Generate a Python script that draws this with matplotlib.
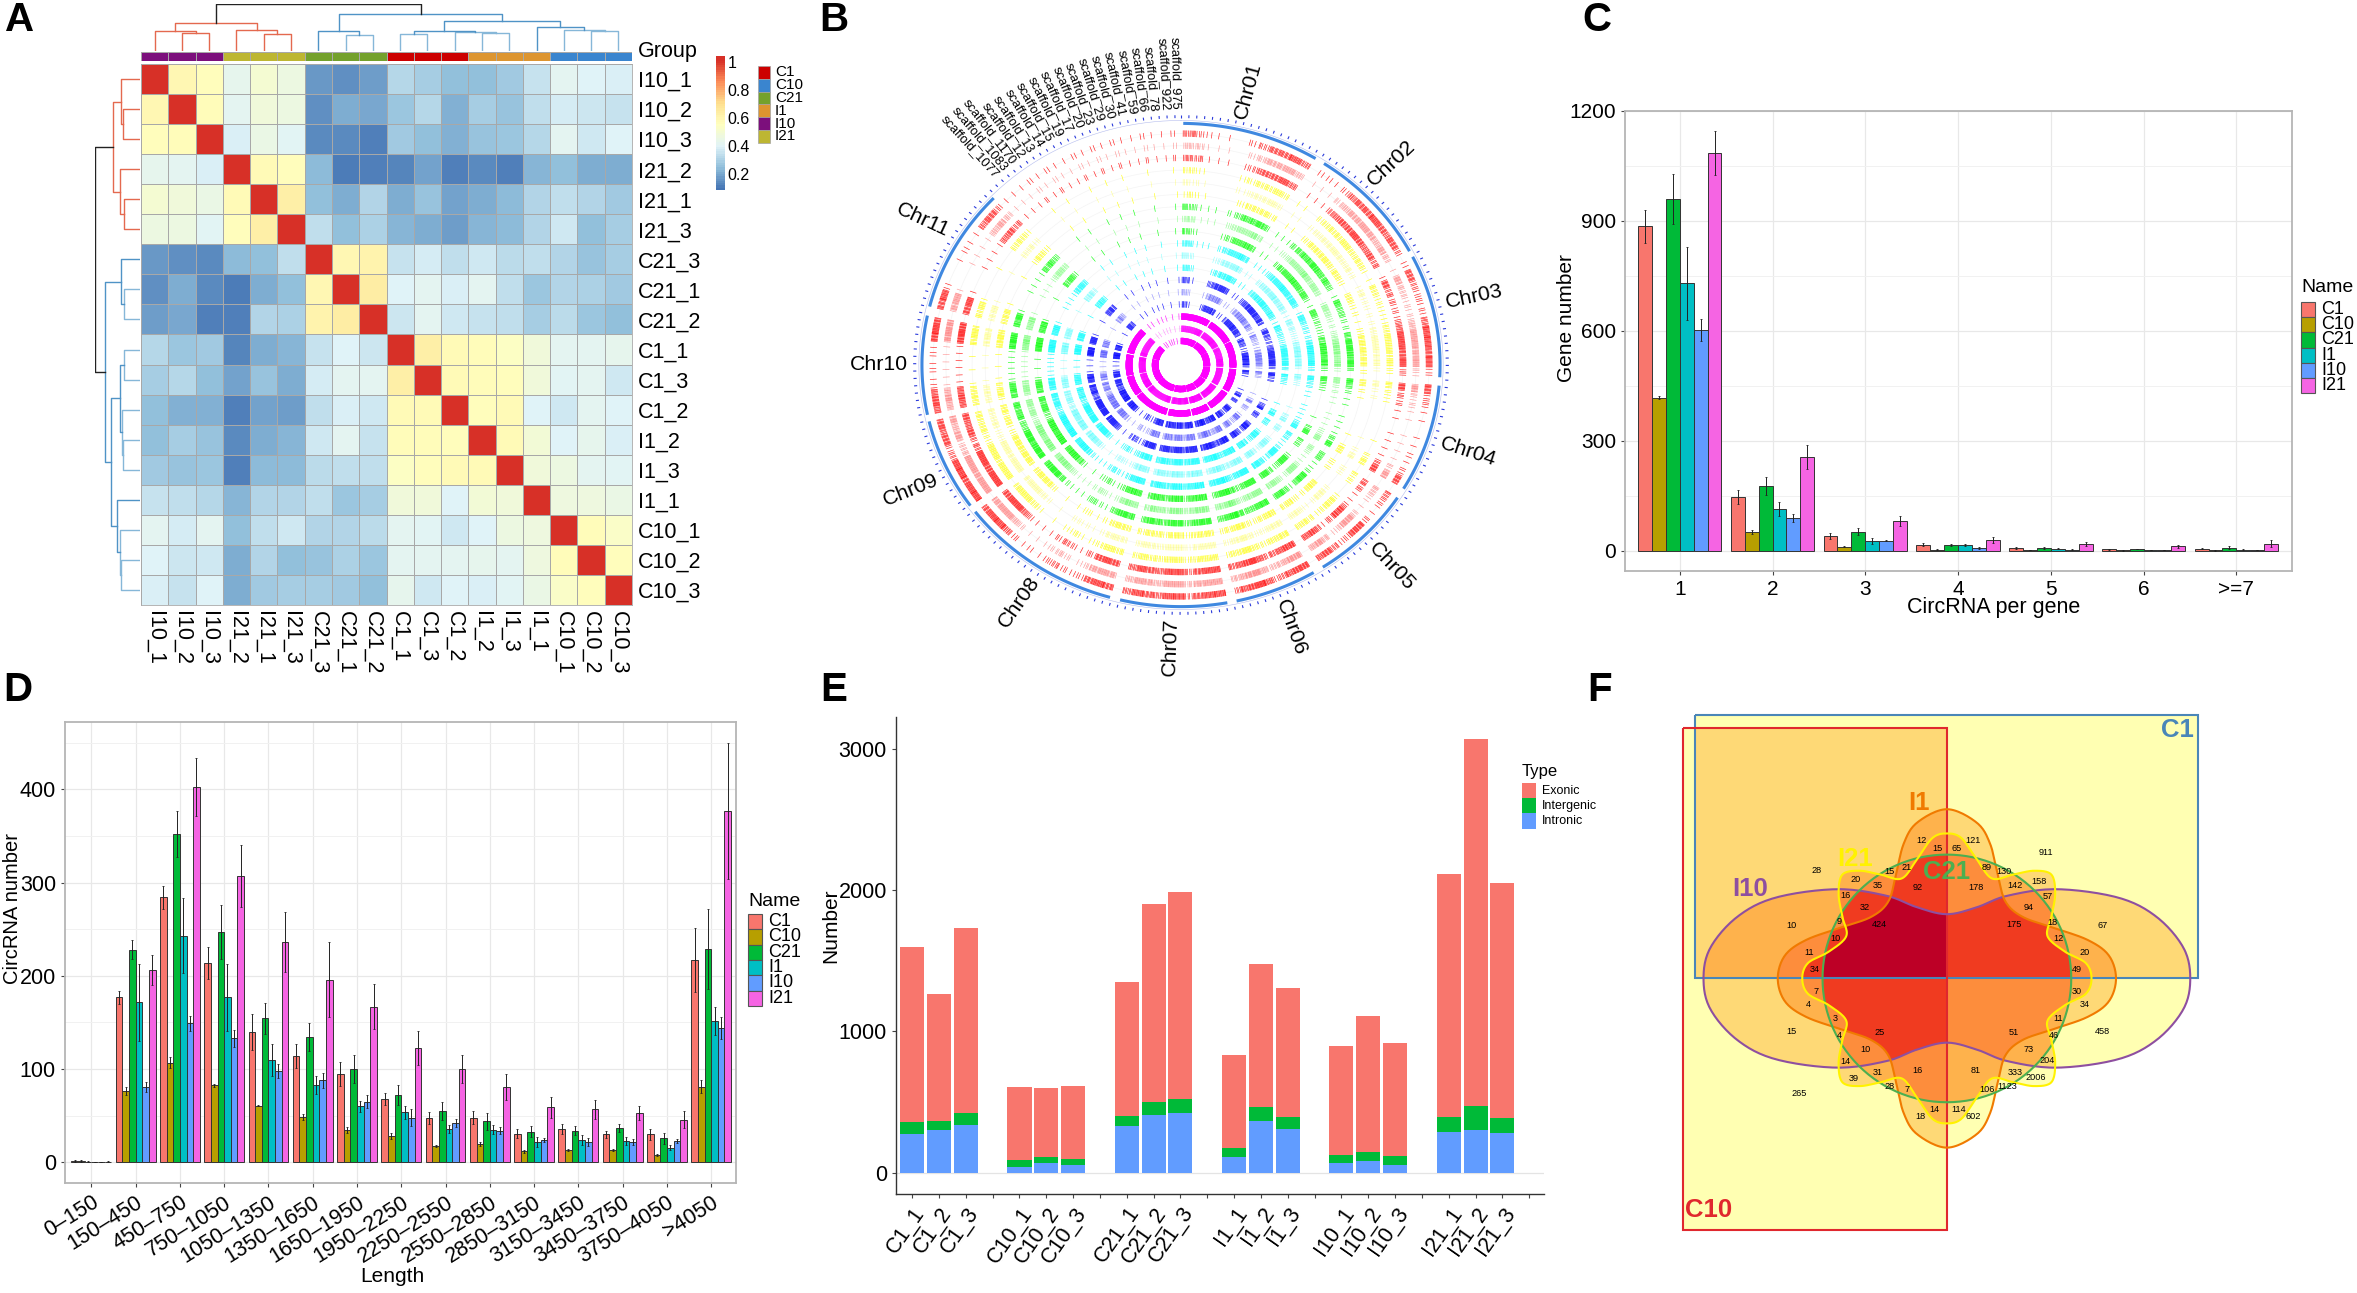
import numpy as np
import matplotlib
matplotlib.use("Agg")
import matplotlib.pyplot as plt
from matplotlib.colors import ListedColormap, LinearSegmentedColormap
from matplotlib.patches import Rectangle, PathPatch
from matplotlib.path import Path

plt.rcParams['font.family'] = ['Liberation Sans', 'DejaVu Sans']

W, H = 2357, 1293

# ---- panel A data ----
hm_labels = ["I10_1", "I10_2", "I10_3", "I21_2", "I21_1", "I21_3", "C21_3", "C21_1", "C21_2",
             "C1_1", "C1_3", "C1_2", "I1_2", "I1_3", "I1_1", "C10_1", "C10_2", "C10_3"]
# upper triangle of the correlation matrix, row by row, diagonal left out
hm_upper = [
    [.58, .55, .42, .49, .45, .16, .14, .17, .31, .28, .24, .24, .27, .34, .41, .39, .38],
    [.56, .41, .47, .45, .14, .20, .19, .26, .31, .21, .28, .25, .33, .37, .35, .34],
    [.38, .44, .40, .13, .13, .11, .27, .24, .21, .25, .26, .31, .41, .36, .39],
    [.57, .55, .23, .10, .11, .12, .18, .11, .13, .11, .22, .24, .20, .20],
    [.62, .24, .20, .30, .20, .25, .18, .20, .23, .30, .33, .30, .27],
    [.33, .24, .29, .22, .20, .17, .22, .23, .30, .36, .24, .28],
    [.58, .60, .34, .37, .33, .36, .32, .33, .30, .25, .28],
    [.63, .39, .41, .38, .41, .33, .26, .30, .29, .27],
    [.35, .41, .36, .34, .33, .28, .32, .26, .24],
    [.62, .57, .56, .53, .47, .41, .41, .42],
    [.57, .56, .55, .47, .40, .41, .36],
    [.55, .57, .39, .36, .41, .39],
    [.57, .48, .39, .42, .38],
    [.47, .45, .41, .40],
    [.46, .46, .44],
    [.56, .52],
    [.55],
]
hm_groups = [4, 4, 4, 5, 5, 5, 2, 2, 2, 0, 0, 0, 3, 3, 3, 1, 1, 1]
group_names = ["C1", "C10", "C21", "I1", "I10", "I21"]
group_colors = ["#CC0000", "#3A85CF", "#74A12C", "#DD9530", "#7C0F7C", "#BDB632"]
# merge heights of the clustering, leaves index hm_labels
hm_tree = (1.0,
           (.61, (.43, 0, (.38, 1, 2)), (.46, 3, (.36, 4, 5))),
           (.79, (.42, 6, (.35, 7, 8)),
            (.65, (.44, (.37, 9, 10), (.41, 11, (.39, 12, 13))),
             (.51, 14, (.46, 15, (.42, 16, 17))))))

# ---- panel B data ----
chr_names = ["Chr01", "Chr02", "Chr03", "Chr04", "Chr05", "Chr06", "Chr07", "Chr08", "Chr09", "Chr10", "Chr11"]
chr_start = [0.5, 33.5, 63.4, 94.9, 123.3, 149.2, 169.7, 195.9, 234.4, 258.1, 284]
chr_end = [31.3, 61.9, 92.9, 120.8, 146.8, 167.6, 193.6, 232.6, 256.5, 281.8, 313.7]
chr_density = [
    [7, 6, 3, 2, 2, 1, 4, 6, 8, 8, 9, 7],
    [3, 3, 2, 5, 7, 8, 8, 9, 8, 7, 8, 6],
    [3, 8, 6, 5, 4, 4, 7, 9, 9, 8, 9, 5],
    [8, 5, 4, 2, 2, 1, 2, 2, 3, 2, 5, 8],
    [6, 5, 2, 2, 4, 8, 8, 5, 3, 6, 8, 7],
    [8, 8, 7, 6, 5, 7, 9, 8, 7, 6],
    [9, 9, 8, 6, 9, 9, 7, 8, 9, 7],
    [8, 9, 8, 5, 3, 4, 6, 4, 2, 3, 2, 4, 7, 9, 9, 8],
    [9, 9, 8, 9, 9, 6, 5, 8, 7, 8],
    [7, 8, 7, 3, 2, 3, 2, 3, 2, 8, 9, 8],
    [8, 9, 3, 1, 1, 2, 3, 2, 2, 7, 8, 6],
]
scaffold_names = ["scaffold_1077", "scaffold_1083", "scaffold_1170", "scaffold_12", "scaffold_13",
                  "scaffold_14", "scaffold_15", "scaffold_19", "scaffold_17", "scaffold_20",
                  "scaffold_23", "scaffold_29", "scaffold_30", "scaffold_41", "scaffold_59",
                  "scaffold_66", "scaffold_78", "scaffold_922", "scaffold_975"]
scaffold_density = [1, 1, 1, 2, 1, 2, 1, 1, 2, 1, 2, 1, 2, 1, 1, 2, 1, 1, 2]

# ---- panel C data ----
per_gene_cats = ["1", "2", "3", "4", "5", "6", ">=7"]
names = ["C1", "C10", "C21", "I1", "I10", "I21"]
c_vals = [[885, 148, 40, 17, 8, 4, 6],
          [418, 52, 11, 3, 2, 1, 1],
          [960, 176, 52, 16, 8, 5, 9],
          [730, 114, 27, 16, 6, 2, 3],
          [603, 89, 28, 8, 3, 2, 2],
          [1085, 255, 82, 30, 19, 12, 20]]
c_errs = [[46, 19, 8, 5, 3, 1, 2],
          [5, 5, 1, 1, 1, 1, 1],
          [68, 25, 9, 2, 3, 1, 3],
          [100, 18, 9, 3, 2, 1, 1],
          [30, 11, 2, 3, 1, 1, 1],
          [60, 33, 13, 9, 6, 3, 10]]

# ---- panel D data ----
length_cats = ["0–150", "150–450", "450–750", "750–1050", "1050–1350", "1350–1650", "1650–1950", "1950–2250",
               "2250–2550", "2550–2850", "2850–3150", "3150–3450", "3450–3750", "3750–4050", ">4050"]
d_vals = [[2, 177, 284, 214, 140, 114, 95, 68, 48, 48, 31, 36, 30, 30, 217],
          [1.5, 76.5, 107, 82.5, 61, 48.5, 35, 28.5, 18, 20, 12, 13.6, 13, 8, 81],
          [1, 228, 352, 247, 154.5, 134, 100, 72, 55, 44, 33, 34, 37, 26, 229],
          [.5, 171.5, 243, 177, 110, 83, 60, 54, 36, 35, 22, 24, 23, 16, 152],
          [.5, 81, 149, 133, 98, 88, 65, 48, 42.5, 34, 24, 22, 22, 23, 144],
          [.8, 206, 402, 307, 236, 196, 167, 122.5, 100, 81, 59, 57, 53, 46, 377]]
d_errs = [[1, 7, 12, 17, 19, 13, 13, 6, 6.5, 7, 4.5, 5, 4, 6, 34],
          [1, 4.5, 6, 1.5, 1, 3.5, 3, 3, 1, 2, 1.5, 1, 1, 1, 7],
          [.5, 10, 25, 29, 16.5, 15, 15, 10.5, 10, 9, 6, 5, 4, 6, 43],
          [.3, 41.5, 40, 36, 17, 10, 6, 7, 4, 5, 5, 5, 4, 2.5, 15],
          [.3, 5, 8, 9, 7, 8, 7, 9, 4.5, 3.5, 2, 4, 3.5, 2.5, 12],
          [.3, 16, 31, 33, 32, 40, 24, 18.5, 15, 14, 11, 10, 7, 9, 73]]
hue_colors = ["#F8766D", "#B79F00", "#00BA38", "#00BFC4", "#619CFF", "#F564E3"]

# ---- panel E data ----
sample_labels = ["C1_1", "C1_2", "C1_3", "", "C10_1", "C10_2", "C10_3", "", "C21_1", "C21_2", "C21_3", "",
                 "I1_1", "I1_2", "I1_3", "", "I10_1", "I10_2", "I10_3", "", "I21_1", "I21_2", "I21_3", ""]
e_intronic = [270, 298, 334, 0, 42, 65, 51, 0, 331, 407, 424, 0, 112, 368, 309, 0, 65, 84, 53, 0, 289, 298, 278, 0]
e_intergenic = [90, 64, 90, 0, 45, 42, 45, 0, 71, 90, 98, 0, 59, 93, 87, 0, 61, 59, 62, 0, 101, 171, 110, 0]
e_exonic = [1238, 899, 1306, 0, 520, 494, 514, 0, 946, 1402, 1464, 0, 663, 1017, 907, 0, 770, 967, 801, 0, 1720, 2598, 1663, 0]

# ---- panel F data ----
venn_text = ["12", "15", "65", "121", "911", "28", "21", "15", "89", "130", "158", "20", "35", "92", "178", "142",
             "16", "57", "32", "94", "9", "18", "10", "424", "175", "67", "10", "12", "11", "20", "34", "49",
             "7", "30", "4", "34", "3", "11", "15", "25", "51", "458", "4", "46", "10", "73", "14", "204",
             "16", "81", "31", "333", "39", "2006", "28", "1123", "7", "106", "265", "14", "114", "18", "602"]
venn_x = [735, 777, 827, 870, 1062, 461, 697, 653, 905, 951, 1042, 563, 622, 725, 878, 981,
          538, 1066, 588, 1015, 521, 1078, 395, 625, 977, 1208, 512, 1093, 441, 1161, 456, 1142,
          461, 1142, 441, 1161, 511, 1092, 395, 626, 977, 1208, 521, 1081, 588, 1015, 538, 1063,
          726, 877, 622, 981, 558, 1033, 652, 959, 697, 906, 415, 769, 834, 734, 870]
venn_y = [392, 412, 412, 391, 422, 469, 462, 472, 462, 472, 498, 494, 508, 513, 513, 508,
          535, 537, 566, 566, 603, 605, 612, 611, 611, 612, 647, 647, 683, 683, 727, 727,
          784, 784, 818, 818, 854, 854, 888, 891, 891, 888, 899, 899, 935, 935, 966, 964,
          990, 990, 995, 995, 1010, 1007, 1031, 1031, 1039, 1039, 1049, 1091, 1091, 1109, 1109]
# one quadrant of each set outline, (dx, dy) from the centre of the diagram
i10_quad = [(636, 0), (618, 80), (548, 160), (448, 210), (288, 232), (158, 215), (78, 185), (0, 167)]
i1_quad = [(442, 0), (423, 60), (368, 100), (278, 132), (198, 160), (153, 200), (133, 270), (113, 350), (78, 405), (0, 440)]
i21_quad = [(378, 0), (363, 40), (308, 70), (263, 110), (273, 160), (283, 220), (273, 270), (228, 280),
            (173, 270), (118, 260), (78, 310), (38, 365), (0, 377)]


def px_axes(l, t, r, b, **kw):
    return fig.add_axes([l / W, 1 - b / H, (r - l) / W, (b - t) / H], **kw)


def ftext(x, y, s, **kw):
    fig.text(x / W, 1 - y / H, s, **kw)


def square_legend(title, labels, colors, x, title_y, top, dy, edge, fs_title, fs_lab, lab_x):
    ftext(x, title_y, title, fontsize=fs_title, va='center', ha='left')
    for i, lab in enumerate(labels):
        r = Rectangle((x / W, 1 - (top + dy * (i + 1)) / H), 14 / W, dy / H, transform=fig.transFigure,
                      facecolor=colors[i], edgecolor=edge, linewidth=0.8)
        fig.add_artist(r)
        ftext(lab_x, top + dy * (i + .5), lab, fontsize=fs_lab, va='center', ha='left')


def draw_tree(ax, node, color, horizontal):
    # returns leaf position and height of a node, draws its two branches
    if not isinstance(node, tuple):
        return node + .5, 0.0
    h, a, b = node
    if color is None:
        ca, cb = "#E4694F", "#4F93C6"
    else:
        ca = cb = color
    if cb == "#4F93C6" and h < .55:
        ca = cb = "#86B7D8"
    pa, ha = draw_tree(ax, a, ca, horizontal)
    pb, hb = draw_tree(ax, b, cb, horizontal)
    line = "#222222" if color is None else color
    xs, ys = [pa, pa, pb, pb], [ha, h, h, hb]
    if horizontal:
        ax.plot(xs, ys, color=line, lw=1)
    else:
        ax.plot(ys, xs, color=line, lw=1)
    return (pa + pb) / 2, h


def grouped_bars(ax, vals, errs):
    n = len(vals[0])
    for i in range(6):
        pos = np.arange(1, n + 1) + (i - 2.5) * .15
        ax.bar(pos, vals[i], .15, color=hue_colors[i], edgecolor="#333333", linewidth=0.7, zorder=3)
        ax.errorbar(pos, vals[i], yerr=errs[i], fmt='none', ecolor="#222222", elinewidth=.7, capsize=1, capthick=.6, zorder=4)


def gg_style(ax, major, minor):
    ax.set_yticks(major)
    ax.set_yticks(minor, minor=True)
    ax.grid(True, which='major', color="#E8E8E8", lw=.9)
    ax.grid(True, which='minor', axis='y', color="#F1F1F1", lw=.7)
    ax.set_axisbelow(True)
    ax.tick_params(which='minor', length=0)
    ax.tick_params(which='major', length=3, width=.8, color="#444444")
    for s in ax.spines.values():
        s.set_color("#B5B5B5")
        s.set_linewidth(1.3)


def closed_curve(quad, cx, cy):
    # mirror the quadrant to all four sides, then run a closed Catmull-Rom spline through it
    q = np.array(quad, float)
    p = [q, q[-2:0:-1] * [-1, 1], q * [-1, -1], q[-2:0:-1] * [1, -1]]
    p = np.vstack(p)
    out = []
    t = np.linspace(0, 1, 14, endpoint=False)[:, None]
    for i in range(len(p)):
        p0, p1, p2, p3 = p[i - 1], p[i], p[(i + 1) % len(p)], p[(i + 2) % len(p)]
        out.append(.5 * (2 * p1 + (p2 - p0) * t + (2 * p0 - 5 * p1 + 4 * p2 - p3) * t ** 2 + (3 * p1 - p0 - 3 * p2 + p3) * t ** 3))
    out = np.vstack(out)
    out = np.vstack([out, out[0]])
    return np.column_stack([cx + out[:, 0], cy - out[:, 1]])


fig = plt.figure(figsize=(W / 100, H / 100), dpi=100)

for lab, x, y in [("A", 20, 20), ("B", 834, 20), ("C", 1597, 20), ("D", 18, 690), ("E", 834, 690), ("F", 1600, 690)]:
    ftext(x, y, lab, fontsize=29, fontweight='bold', ha='center', va='center')

# ---------------- A: correlation heatmap ----------------
mat = np.eye(18)
for i, row in enumerate(hm_upper):
    for j, v in enumerate(row):
        mat[i, i + 1 + j] = v
        mat[i + 1 + j, i] = v
rdylbu = LinearSegmentedColormap.from_list("rdylbu", ["#4575B4", "#91BFDB", "#E0F3F8", "#FFFFBF", "#FEE090", "#FC8D59", "#D73027"])
ax = px_axes(141, 64, 632, 605)
ax.pcolormesh(mat, cmap=rdylbu, vmin=.085, vmax=1.0, edgecolors="#A8A8A8", linewidth=.45)
ax.set_xlim(0, 18)
ax.set_ylim(18, 0)
ax.yaxis.tick_right()
ax.set_yticks(np.arange(18) + .5, hm_labels, fontsize=15.5)
ax.set_xticks(np.arange(18) + .5, hm_labels, fontsize=15.5, rotation=270)
ax.tick_params(length=0, pad=4)
for s in ax.spines.values():
    s.set_color("#A8A8A8")
    s.set_linewidth(.6)

ax = px_axes(141, 52, 632, 61)
ax.pcolormesh([hm_groups], cmap=ListedColormap(group_colors), vmin=-.5, vmax=5.5, edgecolors="#A8A8A8", linewidth=.4)
ax.axis('off')
ftext(638, 52, "Group", fontsize=15.5, va='center')

ax = px_axes(141, 4, 632, 51)
draw_tree(ax, hm_tree, None, True)
ax.set_xlim(0, 18)
ax.set_ylim(0, 1.01)
ax.axis('off')

ax = px_axes(95, 64, 140, 605)
draw_tree(ax, hm_tree, None, False)
ax.set_ylim(18, 0)
ax.set_xlim(1.01, 0)
ax.axis('off')

ax = px_axes(716, 56, 725, 190)
levels = np.linspace(.085, 1.04, 60)
ax.pcolormesh([0, 1], levels, np.column_stack([levels[:-1]]), cmap=rdylbu, vmin=.085, vmax=1.0)
ax.set_xticks([])
ax.yaxis.tick_right()
ax.set_yticks([.2, .4, .6, .8, 1], ["0.2", "0.4", "0.6", "0.8", "1"], fontsize=11.5)
ax.tick_params(length=0, pad=2)
for s in ax.spines.values():
    s.set_visible(False)

for i, g in enumerate(group_names):
    fig.add_artist(Rectangle((758 / W, 1 - (66 + 12.8 * (i + 1)) / H), 12 / W, 12.8 / H, transform=fig.transFigure,
                             facecolor=group_colors[i], edgecolor="#A3A3A3", linewidth=.5))
    ftext(775, 66 + 12.8 * (i + .5), g, fontsize=11, va='center')

# ---------------- B: circos tracks ----------------
ax = px_axes(1181 - 272, 365 - 253.7, 1181 + 272, 365 + 253.7, projection='polar')
ax.set_theta_zero_location('N')
ax.set_theta_direction(-1)
ax.set_ylim(0, 1.05)
ax.set_aspect('auto')
ax.axis('off')

ring_colors = ["#FF0000", "#FFFF00", "#00FF00", "#00FFFF", "#0000FF", "#FF00FF"]
ring_gain = [.8, .55, .95, 1.1, 1.3, 7]
ring_floor = [0, 0, 0, 0, 0, 7]
track_alpha = [.9, .4, .9]
segments = list(zip(chr_start, chr_end, chr_density)) + [(314.5, 359.5, scaffold_density)]
circle = np.linspace(0, 2 * np.pi, 361)
for c in range(6):
    for t in range(3):
        r = .958 - .0505 * (3 * c + t)
        ax.plot(circle, np.full(361, r), color="#F4F4F4", lw=.5, zorder=1)
        thetas = []
        for seg_i, (a, b, dens) in enumerate(segments):
            step = (b - a) / len(dens)
            for k, v in enumerate(dens):
                if seg_i < 11:
                    v = max(v, ring_floor[c])
                    # squared so the sparse stretches stay sparse and the bands stay dense
                    n = int(round(v * v / 7 * ring_gain[c] * r * 1.6))
                else:
                    # the scaffolds are nearly empty, and emptier towards the centre
                    n = v if c == 0 else v - 1
                spread = min(1, .25 + v / 7)
                for m in range(n):
                    # low-discrepancy step so the marks of one bin clump unevenly instead of a regular comb
                    frac = (m * .618 + t * .37 + c * .21) % 1
                    thetas.append(a + step * (k + .5 + spread * (frac - .5)))
        ax.vlines(np.radians(thetas), r - .013, r + .013, color=ring_colors[c], lw=.45, alpha=track_alpha[t], zorder=2)

for a, b in zip(chr_start, chr_end):
    ax.plot(np.radians(np.linspace(a, b, 60)), np.ones(60), color="#3F88E0", lw=2.2, solid_capstyle='butt')
ax.plot(circle, np.full(361, 1.012), color="#B4BCEE", lw=.4)
ax.vlines(np.radians(np.arange(0, 360, 1.7)), 1.022, 1.034, color="#2A3ADB", lw=.8)

chr_theta = [12.8, 44.3, 76, 108, 135.7, 158.7, 182, 212.5, 243.6, 270, 301]
chr_rot = [75, 43, 12, -18, -47, -70, 88, 55, 22, 0, -25]
for name, th, rot in zip(chr_names, chr_theta, chr_rot):
    ax.text(np.radians(th), 1.165, name, fontsize=15.3, rotation=rot, rotation_mode='anchor', ha='center', va='center')
for name, th in zip(scaffold_names, np.linspace(317.7, 359, 19)):
    ax.text(np.radians(th), 1.055, name, fontsize=9.3, rotation=(360 - th) - 90, rotation_mode='anchor', ha='right', va='center')

# ---------------- C: circRNA per gene ----------------
ax = px_axes(1625, 111, 2292, 571)
grouped_bars(ax, c_vals, c_errs)
ax.set_xlim(.41, 7.6)
ax.set_ylim(-55, 1200)
gg_style(ax, [0, 300, 600, 900, 1200], [150, 450, 750, 1050])
ax.set_xticks(np.arange(1, 8), per_gene_cats)
ax.tick_params(axis='both', labelsize=15)
ftext(1994, 608, "CircRNA per gene", fontsize=15.5, ha='center', va='center')
ftext(1567, 318, "Gene number", fontsize=15, rotation=90, ha='center', va='center')
square_legend("Name", names, hue_colors, 2301, 288, 302, 15.2, "#555555", 14, 13, 2321)

# ---------------- D: length distribution ----------------
ax = px_axes(65, 722, 736, 1183)
grouped_bars(ax, d_vals, d_errs)
ax.set_xlim(.405, 15.56)
ax.set_ylim(-22, 472)
gg_style(ax, [0, 100, 200, 300, 400], [50, 150, 250, 350, 450])
ax.set_xticks(np.arange(1, 16), length_cats, rotation=32, ha='right', rotation_mode='anchor')
ax.tick_params(axis='both', labelsize=15.5)
ftext(392, 1277, "Length", fontsize=15, ha='center', va='center')
ftext(13, 908, "CircRNA number", fontsize=14.5, rotation=90, ha='center', va='center')
square_legend("Name", names, hue_colors, 748, 901, 914, 15.3, "#555555", 14, 13, 768)

# ---------------- E: stacked types ----------------
ax = px_axes(896, 717, 1544, 1194)
pos = np.arange(24)
stack_colors = ["#619CFF", "#00BA38", "#F8766D"]
e_intronic = np.array(e_intronic)
e_intergenic = np.array(e_intergenic)
e_exonic = np.array(e_exonic)
ax.axhline(0, color="#E4E4E4", lw=.9, zorder=1)
ax.bar(pos, e_intronic, .9, color=stack_colors[0], zorder=2)
ax.bar(pos, e_intergenic, .9, bottom=e_intronic, color=stack_colors[1], zorder=2)
ax.bar(pos, e_exonic, .9, bottom=e_intronic + e_intergenic, color=stack_colors[2], zorder=2)
ax.set_xlim(-.6, 23.55)
ax.set_ylim(-152, 3225)
ax.set_yticks([0, 1000, 2000, 3000])
ax.set_xticks(pos, sample_labels, rotation=55, ha='right', rotation_mode='anchor')
ax.tick_params(axis='both', labelsize=15.5, length=3, width=.8, color="#444444")
ax.spines['top'].set_visible(False)
ax.spines['right'].set_visible(False)
for s in ['left', 'bottom']:
    ax.spines[s].set_color("#333333")
    ax.spines[s].set_linewidth(1)
ftext(831, 926, "Number", fontsize=15, rotation=90, ha='center', va='center')
square_legend("Type", ["Exonic", "Intergenic", "Intronic"], ["#F8766D", "#00BA38", "#619CFF"],
              1522, 771, 783, 15.2, "none", 12, 9, 1542)

# ---------------- F: six-set Venn ----------------
ax = px_axes(1640, 690, 2240, 1293)
cx, cy = 802, 750
c1_box = [(145, 66), (1458, 66), (1458, 750), (145, 750), (145, 66)]
c10_box = [(113, 98), (802, 98), (802, 1404), (113, 1404), (113, 98)]
ang = np.linspace(0, 2 * np.pi, 241)
green_ring = np.column_stack([cx + 325 * np.cos(ang), cy - 322 * np.sin(ang)])
shapes = [(np.array(c1_box, float), "#4A86B8"), (np.array(c10_box, float), "#E0282E"),
          (closed_curve(i10_quad, cx, cy), "#8E4FA0"), (closed_curve(i1_quad, cx, cy), "#F07A00"),
          (green_ring, "#4CAF50"), (closed_curve(i21_quad, cx, cy), "#FFF200")]
gx, gy = np.meshgrid(np.linspace(0, 1568, 1300), np.linspace(0, 1568, 1300))
grid = np.column_stack([gx.ravel(), gy.ravel()])
count = np.zeros(grid.shape[0], int)
for xy, col in shapes:
    count += Path(xy).contains_points(grid)
overlap = ListedColormap(["#FFFFFF", "#FFFFB2", "#FED976", "#FEB24C", "#FD8D3C", "#F03B20", "#BD0026"])
ax.imshow(count.reshape(gx.shape), cmap=overlap, vmin=-.5, vmax=6.5, extent=(0, 1568, 1568, 0), aspect='auto', interpolation='nearest')
for xy, col in shapes:
    ax.add_patch(PathPatch(Path(xy), fill=False, edgecolor=col, lw=1.5))
ax.set_xlim(0, 1568)
ax.set_ylim(1568, 0)
ax.axis('off')
for s, x, y in zip(venn_text, venn_x, venn_y):
    ax.text(x, y, s, fontsize=6.6, ha='center', va='center')
for s, x, y, col in [("C1", 1405, 105, "#4A86B8"), ("C10", 180, 1352, "#E0282E"), ("I10", 288, 517, "#8E4FA0"),
                     ("I1", 728, 295, "#F07A00"), ("I21", 563, 440, "#FFF200"), ("C21", 802, 472, "#4CAF50")]:
    ax.text(x, y, s, fontsize=18.5, color=col, fontweight='bold', ha='center', va='center')

fig.savefig("out.png", dpi=100)
